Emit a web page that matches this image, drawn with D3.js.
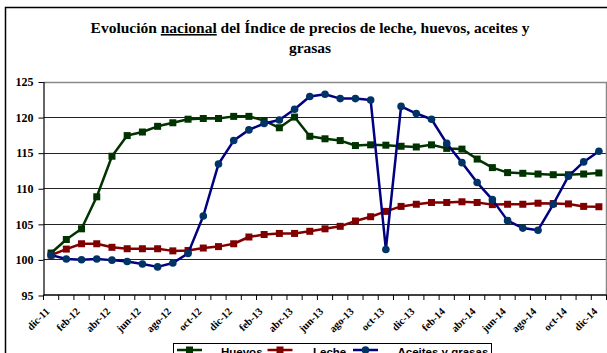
<!DOCTYPE html>
<html>
<head>
<meta charset="utf-8">
<script src="https://cdn.jsdelivr.net/npm/d3@7"></script>
<style>
  html, body { margin: 0; padding: 0; background: #fff; }
  svg { display: block; }
</style>
</head>
<body>
<svg id="chart" width="607" height="353"></svg>
<script>
// Monthly index values, December 2011 to December 2014
const months = ["dic-11","ene-12","feb-12","mar-12","abr-12","may-12","jun-12","jul-12","ago-12","sep-12","oct-12","nov-12",
  "dic-12","ene-13","feb-13","mar-13","abr-13","may-13","jun-13","jul-13","ago-13","sep-13","oct-13","nov-13",
  "dic-13","ene-14","feb-14","mar-14","abr-14","may-14","jun-14","jul-14","ago-14","sep-14","oct-14","nov-14","dic-14"];

const huevos = [100.9,102.8,104.3,108.8,114.5,117.4,117.9,118.7,119.2,119.7,119.8,
  119.8,120.1,120.1,119.5,118.5,120.0,117.3,116.95,116.7,116.0,116.1,116.05,
  115.9,115.8,116.1,115.6,115.5,114.1,112.9,112.2,112.1,112.0,111.9,111.9,112.0,112.15];

const leche = [100.6,101.45,102.2,102.2,101.7,101.5,101.5,101.5,101.2,101.25,101.6,
  101.8,102.2,103.15,103.5,103.65,103.65,103.95,104.3,104.65,105.4,106.0,106.75,
  107.45,107.75,108.0,108.0,108.1,108.0,107.7,107.75,107.75,107.9,107.85,107.8,107.45,107.4];

const aceites = [100.6,100.05,99.95,100.05,99.9,99.7,99.35,98.95,99.5,100.85,106.1,
  113.4,116.7,118.2,119.1,119.6,121.1,122.9,123.2,122.6,122.6,122.4,101.4,
  121.5,120.5,119.7,116.3,113.6,110.8,108.4,105.45,104.4,104.1,107.75,111.7,113.7,115.2];

const yTicks = [95, 100, 105, 110, 115, 120, 125];
const seriesNames = ["Huevos", "Leche", "Aceites y grasas"];

const series = [
  { name: seriesNames[0], values: huevos,  line: "#003300", fill: "#003300", shape: "square" },
  { name: seriesNames[1], values: leche,   line: "#800000", fill: "#800000", shape: "square" },
  { name: seriesNames[2], values: aceites, line: "#000080", fill: "#003366", shape: "circle" }
];

const svg = d3.select("#chart");
const serif = "'Liberation Serif', 'Times New Roman', serif";
const sans = "'Liberation Sans', Arial, sans-serif";

// outer chart frame
svg.append("rect")
  .attr("x", 5.5).attr("y", 7.5).attr("width", 700).attr("height", 400)
  .attr("fill", "none").attr("stroke", "#000").attr("stroke-width", 1.5);

// title
const title = svg.append("text")
  .attr("font-family", serif).attr("font-weight", "bold").attr("font-size", 15.5)
  .attr("text-anchor", "middle").attr("fill", "#000");
const l1 = title.append("tspan").attr("x", 310).attr("y", 33);
l1.append("tspan").text("Evolución ");
l1.append("tspan").attr("text-decoration", "underline").style("text-decoration", "underline").text("nacional");
l1.append("tspan").text(" del Índice de precios de leche, huevos, aceites y");
title.append("tspan").attr("x", 310).attr("y", 53).text("grasas");

// scales
const plot = { left: 43.5, right: 606.5, top: 81.5, bottom: 295 };
const x = d3.scaleBand().domain(months).range([plot.left, plot.right]).padding(0);
const cx = m => x(m) + x.bandwidth() / 2;
const y = d3.scaleLinear().domain([95, 125]).range([plot.bottom, plot.top]);

// horizontal gridlines
svg.append("g").selectAll("line")
  .data(yTicks.filter(t => t > 95 && t < 125))
  .join("line")
  .attr("x1", plot.left).attr("x2", plot.right)
  .attr("y1", d => Math.round(y(d)) + 0.5).attr("y2", d => Math.round(y(d)) + 0.5)
  .attr("stroke", "#222").attr("stroke-width", 1);

// plot-area border (top and right)
svg.append("path")
  .attr("d", `M${plot.left},${Math.round(y(125)) + 0.5}H${plot.right}V${plot.bottom}`)
  .attr("fill", "none").attr("stroke", "#888").attr("stroke-width", 1.5);

// y axis
const yAxis = svg.append("g")
  .attr("transform", `translate(${plot.left},0)`)
  .call(d3.axisLeft(y).tickValues(yTicks).tickSize(5).tickPadding(5).tickSizeOuter(0)
    .tickFormat(d3.format("d")));
yAxis.select(".domain").attr("stroke", "#000").attr("stroke-width", 1.2);
yAxis.selectAll(".tick line").attr("stroke", "#000").attr("y1", 0.5).attr("y2", 0.5);
yAxis.selectAll(".tick text")
  .attr("font-family", serif).attr("font-weight", "bold").attr("font-size", 12)
  .attr("fill", "#000").attr("dy", "0.35em");

// x axis: baseline, tick marks at category boundaries, labels every other month
svg.append("line")
  .attr("x1", plot.left).attr("x2", plot.right)
  .attr("y1", plot.bottom).attr("y2", plot.bottom)
  .attr("stroke", "#000").attr("stroke-width", 1.5);
const bounds = months.map(m => x(m)).concat([x(months[months.length - 1]) + x.bandwidth()]);
svg.append("g").selectAll("line").data(bounds).join("line")
  .attr("x1", d => d).attr("x2", d => d)
  .attr("y1", plot.bottom).attr("y2", plot.bottom + 5)
  .attr("stroke", "#000").attr("stroke-width", 1);
svg.append("g").selectAll("text")
  .data(months.filter((m, i) => i % 2 === 0))
  .join("text")
  .attr("transform", d => `translate(${cx(d) - 1},${plot.bottom + 17}) rotate(-45)`)
  .attr("text-anchor", "end")
  .attr("font-family", serif).attr("font-weight", "bold").attr("font-size", 10.5)
  .attr("fill", "#000")
  .text(d => d);

// series lines and markers
const line = d3.line().x((d, i) => cx(months[i])).y(d => y(d));
series.forEach(s => {
  const g = svg.append("g");
  g.append("path")
    .attr("d", line(s.values))
    .attr("fill", "none").attr("stroke", s.line).attr("stroke-width", 2.5)
    .attr("stroke-linejoin", "round");
  if (s.shape === "square") {
    g.selectAll("rect").data(s.values).join("rect")
      .attr("x", (d, i) => cx(months[i]) - 3.5).attr("y", d => y(d) - 3.5)
      .attr("width", 7).attr("height", 7)
      .attr("fill", s.fill);
  } else {
    g.selectAll("circle").data(s.values).join("circle")
      .attr("cx", (d, i) => cx(months[i])).attr("cy", d => y(d))
      .attr("r", 3.8).attr("fill", s.fill);
  }
});

// legend
const legend = svg.append("g");
legend.append("rect")
  .attr("x", 173.5).attr("y", 343.5).attr("width", 318).attr("height", 30)
  .attr("fill", "#fff").attr("stroke", "#000").attr("stroke-width", 1);
const legendPos = [
  { lx: 177, tx: 221 },
  { lx: 267.5, tx: 313 },
  { lx: 353, tx: 397.5 }
];
series.forEach((s, i) => {
  const p = legendPos[i];
  const ly = 350;
  legend.append("line")
    .attr("x1", p.lx).attr("x2", p.lx + 25).attr("y1", ly).attr("y2", ly)
    .attr("stroke", s.line).attr("stroke-width", 2.5);
  if (s.shape === "square") {
    legend.append("rect").attr("x", p.lx + 12.5 - 3.5).attr("y", ly - 3.5)
      .attr("width", 7).attr("height", 7).attr("fill", s.fill);
  } else {
    legend.append("circle").attr("cx", p.lx + 12.5).attr("cy", ly).attr("r", 3.8).attr("fill", s.fill);
  }
  legend.append("text")
    .attr("x", p.tx).attr("y", 356)
    .attr("font-family", sans).attr("font-weight", "bold").attr("font-size", 11.5)
    .attr("fill", "#000")
    .text(s.name);
});
</script>
</body>
</html>
